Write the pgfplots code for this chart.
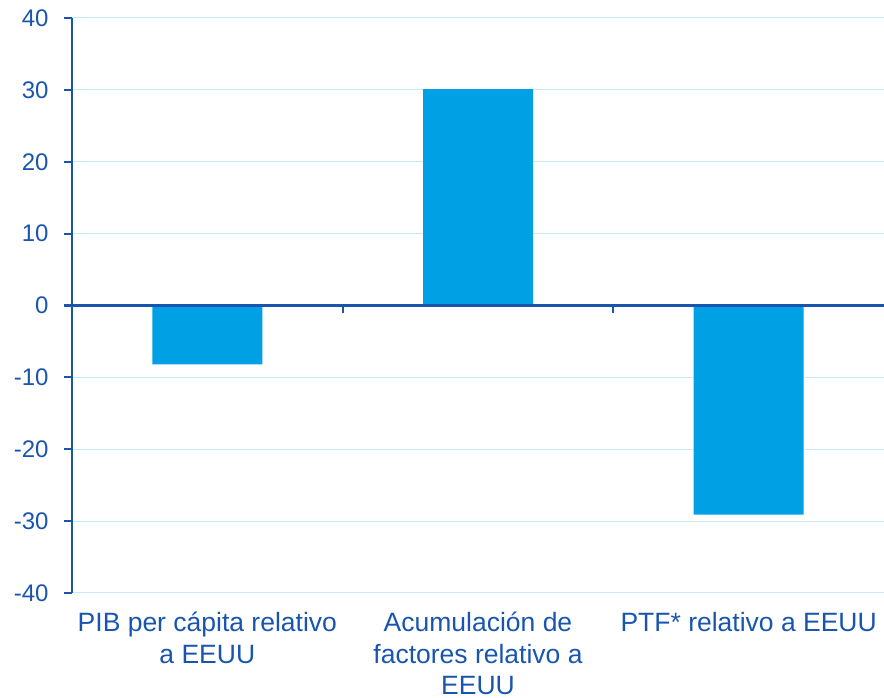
\documentclass[border=0pt]{standalone}
\usepackage{fontspec}
\setmainfont{Liberation Sans}
\usepackage{pgfplots}
\pgfplotsset{compat=1.18}
\definecolor{axblue}{RGB}{25,85,175}
\definecolor{barblue}{RGB}{0,160,228}
\definecolor{gridblue}{RGB}{200,235,248}
\begin{document}
\begin{tikzpicture}
\useasboundingbox (0,0) rectangle (884pt,698pt);
\begin{axis}[
  at={(72pt,105pt)}, anchor=south west,
  scale only axis, width=812pt, height=575pt,
  xmin=-0.5, xmax=2.5, ymin=-40, ymax=40,
  ytick={-40,-30,...,40},
  xtick={0,1,2},
  xticklabels={{PIB per cápita relativo\\a EEUU},{Acumulación de\\factores relativo a\\EEUU},{PTF* relativo a EEUU}},
  axis x line*=bottom,
  axis y line*=left,
  x axis line style={draw=none},
  y axis line style={axblue, line width=2.2pt, -},
  xtick style={draw=none},
  ymajorgrids, grid style={gridblue, line width=1pt},
  major tick length=8pt,
  ytick style={axblue, line width=2.2pt},
  tick align=outside,
  yticklabel style={font=\fontsize{24}{28}\selectfont, text=axblue, xshift=-12pt},
  xticklabel style={font=\fontsize{26.5}{31.5}\selectfont, text=axblue, align=center, anchor=north, inner sep=0pt, yshift=-11pt},
  /pgf/number format/assume math mode=true,
  clip=false,
]
\addplot[ybar, bar width=110pt, fill=barblue, draw=none] coordinates {(0,-8.2) (1,30.1) (2,-29.1)};
\draw[axblue, line width=2.2pt] (axis cs:-0.5,0) -- (axis cs:2.5,0);
\draw[axblue, line width=2.2pt] (axis cs:0.5,0) -- ([yshift=-8pt]axis cs:0.5,0);
\draw[axblue, line width=2.2pt] (axis cs:1.5,0) -- ([yshift=-8pt]axis cs:1.5,0);
\end{axis}
\end{tikzpicture}
\end{document}
